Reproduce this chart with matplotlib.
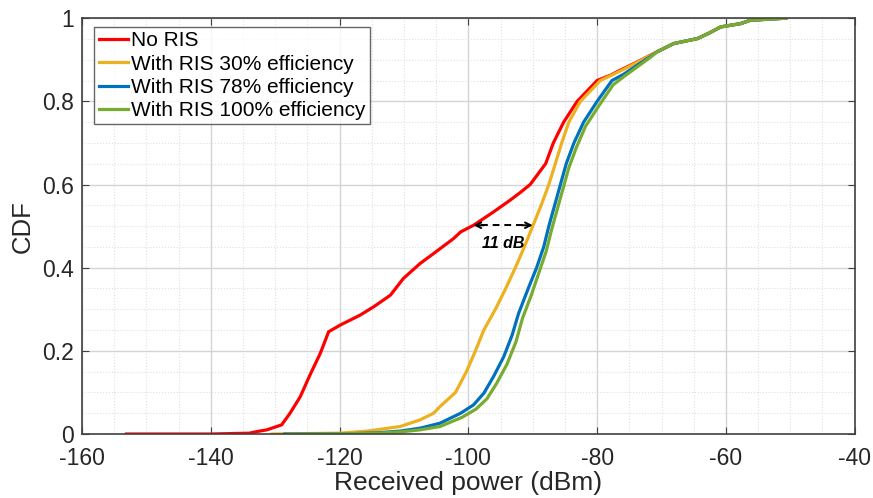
import numpy as np
import matplotlib
matplotlib.use('Agg')
import matplotlib.pyplot as plt
from matplotlib.ticker import MultipleLocator

plt.rcParams['font.family'] = ['Liberation Sans', 'DejaVu Sans']
plt.rcParams['axes.unicode_minus'] = False

# values (received power in dBm, CDF)
red_x = [-153.1, -140, -134, -132.8, -131.3, -129.0, -127.7, -126.1, -124.6, -123.0, -121.7,
         -119.9, -116.8, -114.7, -112.1, -110.1, -107.5, -105.4, -102.3, -101.2, -99.2,
         -96.1, -93.5, -92.0, -90.4, -88.0, -86.8, -85.2, -83.1, -80.0, -77.9,
         -76.4, -74.0, -70.7, -68.1, -64.4, -62.5, -60.8, -57.7, -56.2, -50.7]
red_y = [0, 0, 0.002, 0.006, 0.01, 0.022, 0.05, 0.09, 0.142, 0.194, 0.246,
         0.262, 0.286, 0.306, 0.334, 0.374, 0.41, 0.434, 0.47, 0.486, 0.502,
         0.534, 0.5625, 0.58, 0.6, 0.65, 0.7, 0.75, 0.8, 0.85, 0.863,
         0.875, 0.893, 0.919, 0.939, 0.951, 0.965, 0.979, 0.987, 0.995, 1.0]

ris30_x = [-130.5, -120, -115.7, -110.6, -107.5, -105.4, -104.4, -102.0, -100.3, -98.9,
           -97.6, -95.8, -94.2, -92.7, -91.3, -90.0, -88.7, -87.5, -86.5, -85.5, -84.4,
           -82.6, -79.5, -76.0, -72.5, -70.7, -68.1, -64.4, -62.5, -60.8, -57.7, -56.2, -50.7]
ris30_y = [0, 0.002, 0.007, 0.018, 0.034, 0.05, 0.066, 0.1, 0.15, 0.2,
           0.25, 0.3, 0.35, 0.4, 0.45, 0.5, 0.55, 0.6, 0.65, 0.7, 0.75,
           0.8, 0.85, 0.876, 0.904, 0.919, 0.939, 0.951, 0.965, 0.979, 0.987, 0.995, 1.0]

ris78_x = [-128.5, -118, -114, -110.6, -107.5, -104.4, -101.2, -99.2, -97.6, -96.1, -94.5,
           -93.2, -92.2, -90.7, -89.4, -88.3, -87.5, -86.6, -85.7, -84.8, -83.6, -82.1, -80.0,
           -77.7, -75.9, -71.8, -70.7, -68.1, -64.4, -62.5, -60.8, -57.7, -56.2, -50.7]
ris78_y = [0, 0.001, 0.003, 0.007, 0.014, 0.026, 0.05, 0.07, 0.098, 0.138, 0.186,
           0.238, 0.29, 0.35, 0.4, 0.45, 0.5, 0.55, 0.6, 0.65, 0.7, 0.75, 0.8,
           0.85, 0.865, 0.907, 0.919, 0.939, 0.951, 0.965, 0.979, 0.987, 0.995, 1.0]

ris100_x = [-128.0, -118, -114, -110.6, -107.5, -104.4, -101.0, -98.8, -97.1, -95.6, -94.0,
            -92.6, -91.6, -90.2, -89.0, -87.9, -87.1, -86.2, -85.3, -84.4, -83.2, -81.8, -79.7,
            -77.5, -75.8, -71.8, -70.7, -68.1, -64.4, -62.5, -60.8, -57.7, -56.2, -50.7]
ris100_y = [0, 0.001, 0.002, 0.005, 0.01, 0.018, 0.04, 0.06, 0.085, 0.122, 0.168,
            0.222, 0.278, 0.335, 0.39, 0.44, 0.49, 0.54, 0.59, 0.64, 0.69, 0.74, 0.79,
            0.84, 0.86, 0.905, 0.919, 0.939, 0.951, 0.965, 0.979, 0.987, 0.995, 1.0]

labels = ['No RIS', 'With RIS 30% efficiency', 'With RIS 78% efficiency', 'With RIS 100% efficiency']
colors = ['#ff0000', '#edb120', '#0072bd', '#77ac30']

gap_left = -99.2
gap_right = -90.0
gap_level = 0.502
gap_text = '11 dB'

fig = plt.figure(figsize=(8.73, 4.98), dpi=100)
ax = fig.add_axes([0.094, 0.1285, 0.885, 0.835])

series = [(red_x, red_y), (ris30_x, ris30_y), (ris78_x, ris78_y), (ris100_x, ris100_y)]
for (xs, ys), lab, col in zip(series, labels, colors):
    ax.plot(xs, ys, color=col, lw=2.3, label=lab, solid_joinstyle='round')

# 11 dB gap marker
ax.plot([gap_left + 1.2, gap_right - 1.2], [gap_level, gap_level], ls=(0, (3.5, 2.5)), color='black', lw=1.4)
ax.annotate('', xy=(gap_left, gap_level), xytext=(gap_left + 1.6, gap_level),
            arrowprops=dict(arrowstyle='->', lw=1.4, color='black', shrinkA=0, shrinkB=0))
ax.annotate('', xy=(gap_right, gap_level), xytext=(gap_right - 1.6, gap_level),
            arrowprops=dict(arrowstyle='->', lw=1.4, color='black', shrinkA=0, shrinkB=0))
ax.text((gap_left + gap_right) / 2, gap_level - 0.045, gap_text, ha='center', va='center',
        fontsize=11.5, fontweight='bold', fontstyle='italic')

ax.set_xlim(-160, -40)
ax.set_ylim(0, 1)
ax.xaxis.set_major_locator(MultipleLocator(20))
ax.xaxis.set_minor_locator(MultipleLocator(5))
ax.yaxis.set_major_locator(MultipleLocator(0.2))
ax.yaxis.set_minor_locator(MultipleLocator(0.05))
ax.set_yticks([0, 0.2, 0.4, 0.6, 0.8, 1.0])
ax.set_yticklabels(['0', '0.2', '0.4', '0.6', '0.8', '1'])
ax.grid(which='major', color='#d4d4d4', lw=1.0)
ax.grid(which='minor', color='#e0e0e0', lw=0.8, ls=':')
ax.set_axisbelow(True)
ax.tick_params(which='major', direction='in', top=True, right=True, length=5,
               labelsize=16.5, color='#404040', labelcolor='#262626', pad=6)
ax.tick_params(axis='x', which='major', pad=9)
ax.tick_params(which='minor', length=0)
for s in ax.spines.values():
    s.set_color('#404040')
    s.set_linewidth(1.2)

ax.set_xlabel('Received power (dBm)', fontsize=19, color='#262626', labelpad=1)
ax.set_ylabel('CDF', fontsize=18.5, color='#262626', labelpad=5)

leg = ax.legend(loc='upper left', bbox_to_anchor=(0.016, 0.978), fontsize=15, frameon=True,
                fancybox=False, edgecolor='#404040', handlelength=1.4, handletextpad=0.15,
                labelspacing=0.2, borderpad=0.2, borderaxespad=0)
leg.get_frame().set_linewidth(1.0)

fig.savefig('out.png', dpi=100)
